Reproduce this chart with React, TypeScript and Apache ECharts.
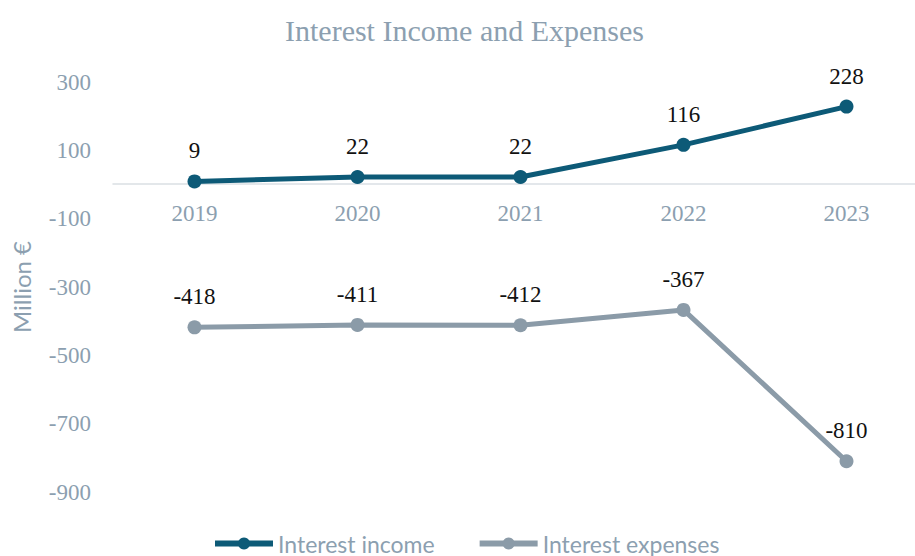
import React, { useEffect, useRef } from "react";
import * as echarts from "echarts";

const years = ["2019", "2020", "2021", "2022", "2023"];
const interestIncome = [9, 22, 22, 116, 228];
const interestExpenses = [-418, -411, -412, -367, -810];
const shownYTicks = [300, 100, -100, -300, -500, -700, -900];

const SERIF = "'Liberation Serif', 'Times New Roman', serif";
const SANS = "Lato, 'Open Sans', sans-serif";
const AXIS_GRAY = "#8C9FB0";

export default function App() {
  const ref = useRef<HTMLDivElement>(null);
  useEffect(() => {
    if (!ref.current) return;
    const chart = echarts.init(ref.current, undefined, { renderer: "svg" });
    const labelCfg = {
      show: true,
      position: "top" as const,
      distance: 12,
      color: "#111",
      fontFamily: SERIF,
      fontSize: 23,
    };
    chart.setOption({
      animation: false,
      title: {
        text: "Interest Income and Expenses",
        left: 280,
        top: 10,
        textStyle: { fontFamily: SERIF, fontSize: 30, fontWeight: "normal", color: AXIS_GRAY },
      },
      legend: {
        bottom: -4,
        left: 207,
        itemWidth: 58,
        itemHeight: 15,
        itemGap: 42,
        textStyle: { fontFamily: SANS, fontSize: 23, color: AXIS_GRAY },
        lineStyle: { width: 6 },
        data: ["Interest income", "Interest expenses"],
      },
      grid: { left: 113, top: 82, width: 815, height: 410, containLabel: false, outerBoundsMode: "none" },
      xAxis: {
        type: "category",
        data: years,
        offset: -308,
        axisLine: { show: true, onZero: false, lineStyle: { color: "#DADFE4", width: 1.5 } },
        axisTick: { show: false },
        axisLabel: { color: AXIS_GRAY, fontFamily: SERIF, fontSize: 23, margin: 18 },
      },
      yAxis: {
        type: "value",
        min: -900,
        max: 300,
        interval: 100,
        name: "Million €",
        nameLocation: "middle",
        nameGap: 80,
        nameTextStyle: { fontFamily: SANS, fontSize: 24, color: AXIS_GRAY },
        axisLine: { show: false },
        axisTick: { show: false },
        splitLine: { show: false },
        axisLabel: {
          color: AXIS_GRAY,
          fontFamily: SERIF,
          fontSize: 23,
          margin: 22,
          formatter: (v: number) => (shownYTicks.includes(v) ? String(v) : ""),
        },
      },
      series: [
        {
          name: "Interest income",
          type: "line",
          data: interestIncome,
          symbol: "circle",
          symbolSize: 14,
          color: "#0D5A77",
          lineStyle: { width: 5, color: "#0D5A77" },
          itemStyle: { color: "#0D5A77" },
          label: labelCfg,
        },
        {
          name: "Interest expenses",
          type: "line",
          data: interestExpenses,
          symbol: "circle",
          symbolSize: 14,
          color: "#8B9BA8",
          lineStyle: { width: 5, color: "#8B9BA8" },
          itemStyle: { color: "#8B9BA8" },
          label: labelCfg,
        },
      ],
    });
    return () => chart.dispose();
  }, []);
  return <div ref={ref} style={{ width: 915, height: 556, position: "absolute", left: 0, top: 0 }} />;
}
